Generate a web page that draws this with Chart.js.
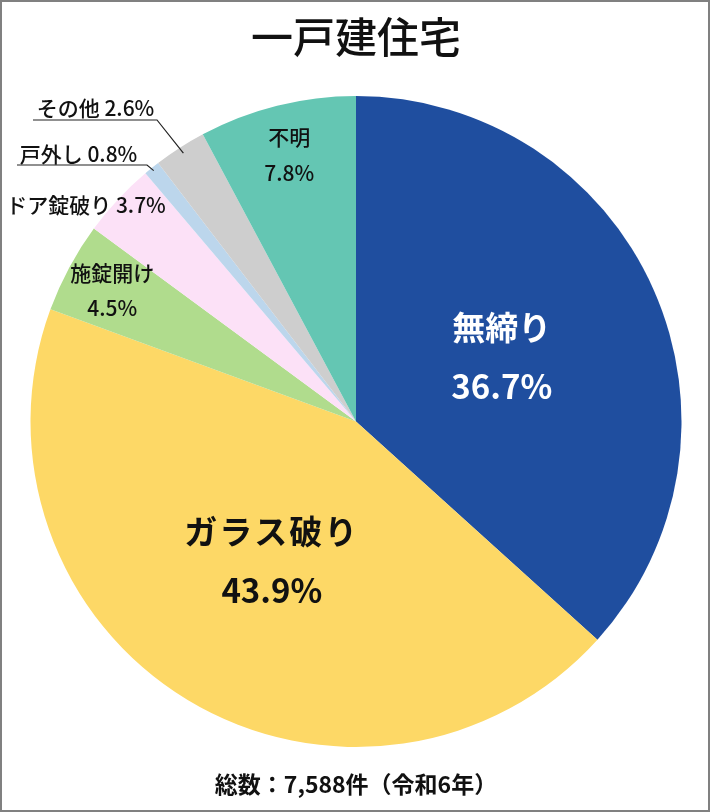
<!DOCTYPE html>
<html lang="ja">
<head>
<meta charset="utf-8">
<title>一戸建住宅</title>
<script src="https://cdn.jsdelivr.net/npm/chart.js@4.4.1/dist/chart.umd.min.js"></script>
<style>
  html, body { margin: 0; padding: 0; background: #fff; }
  #frame {
    width: 710px;
    height: 812px;
    box-sizing: border-box;
    border: 2px solid #808080;
  }
  canvas { display: block; }
</style>
</head>
<body>
<div id="frame">
  <canvas id="houseChart" width="706" height="808"></canvas>
</div>
<script>
// 侵入手段の内訳（一戸建住宅）
const categories = ['無締り', 'ガラス破り', '施錠開け', 'ドア錠破り', '戸外し', 'その他', '不明'];
const shares = [36.7, 43.9, 4.5, 3.7, 0.8, 2.6, 7.8];
const sliceColors = ['#1f4e9f', '#fdd866', '#b0dc8d', '#fce1f7', '#bcd6ec', '#cecece', '#64c6b3'];
const chartTitle = '一戸建住宅';
const footNote = '総数：7,588件（令和6年）';

const FONT = '"Noto Sans CJK JP", "Noto Sans", sans-serif';

// how each slice label is placed
// inside: radial fraction along the slice middle, gap between the two lines
// outside: text centre as offset from pie centre, optional leader line
const labelLayout = [
    { mode: 'inside', rf: 0.49, gap: 59, size: 33, weight: 'bold', color: '#ffffff', spacing: 0 },
    { mode: 'inside', rf: 0.50, gap: 59, size: 33, weight: 'bold', color: '#111111', spacing: 2 },
    { mode: 'inside', rf: 0.85, gap: 35, size: 21, weight: '500', color: '#111111', spacing: 0 },
    { mode: 'outside', dx: -270, dy: -216.5, size: 21, weight: '500', color: '#111111' },
    { mode: 'outside', dx: -277.5, dy: -267, size: 21, weight: '500', color: '#111111',
      leader: { y: -256.5, x0: -339, x1: -209, rf: 0.99 } },
    { mode: 'outside', dx: -260.5, dy: -313.5, size: 21, weight: '500', color: '#111111',
      leader: { y: -301.5, x0: -323, x1: -199, rf: 0.98 } },
    { mode: 'inside', rf: 0.845, gap: 36, size: 21, weight: '500', color: '#111111', spacing: 0 }
];

const sliceLabels = {
    id: 'sliceLabels',
    afterDatasetsDraw(chart) {
        const ctx = chart.ctx;
        const arcs = chart.getDatasetMeta(0).data;
        ctx.save();
        ctx.textAlign = 'center';
        ctx.textBaseline = 'middle';
        arcs.forEach((arc, i) => {
            const cfg = labelLayout[i];
            const cx = arc.x, cy = arc.y, r = arc.outerRadius;
            const mid = (arc.startAngle + arc.endAngle) / 2;
            const pct = shares[i].toFixed(1) + '%';
            ctx.fillStyle = cfg.color;
            ctx.font = cfg.weight + ' ' + cfg.size + 'px ' + FONT;
            if (cfg.mode === 'inside') {
                const x = cx + Math.cos(mid) * r * cfg.rf;
                const y = cy + Math.sin(mid) * r * cfg.rf;
                ctx.letterSpacing = (cfg.spacing || 0) + 'px';
                ctx.fillText(categories[i], x, y - cfg.gap / 2);
                ctx.letterSpacing = '0px';
                ctx.fillText(pct, x, y + cfg.gap / 2);
            } else {
                ctx.fillText(categories[i] + ' ' + pct, cx + cfg.dx, cy + cfg.dy);
                if (cfg.leader) {
                    const L = cfg.leader;
                    ctx.beginPath();
                    ctx.strokeStyle = '#222';
                    ctx.lineWidth = 1.2;
                    ctx.moveTo(cx + L.x0, cy + L.y);
                    ctx.lineTo(cx + L.x1, cy + L.y);
                    ctx.lineTo(cx + Math.cos(mid) * r * L.rf, cy + Math.sin(mid) * r * L.rf);
                    ctx.stroke();
                }
            }
        });
        ctx.restore();
    }
};

const ctx = document.getElementById('houseChart').getContext('2d');

new Chart(ctx, {
    type: 'pie',
    data: {
        labels: categories,
        datasets: [{
            data: shares,
            backgroundColor: sliceColors,
            borderWidth: 0
        }]
    },
    options: {
        responsive: false,
        animation: false,
        layout: {
            padding: { left: 28, right: 26, top: 0, bottom: 0 }
        },
        plugins: {
            legend: { display: false },
            tooltip: { enabled: false },
            title: {
                display: true,
                text: chartTitle,
                color: '#111',
                font: { family: FONT, size: 42, weight: '500', lineHeight: 1.2 },
                padding: { top: 10, bottom: 33.6 }
            },
            subtitle: {
                display: true,
                position: 'bottom',
                text: footNote,
                color: '#111',
                font: { family: FONT, size: 23, weight: 'bold', lineHeight: 1.2 },
                padding: { top: 23.4, bottom: 12 }
            }
        }
    },
    plugins: [sliceLabels]
});
</script>
</body>
</html>
